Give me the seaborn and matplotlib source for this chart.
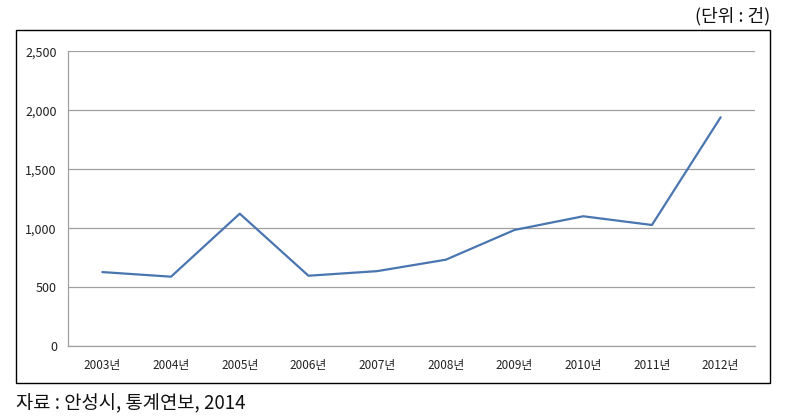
import matplotlib
matplotlib.use("Agg")
import matplotlib.pyplot as plt
import seaborn as sns
import pandas as pd
import numpy as np
from matplotlib.patches import Rectangle
from matplotlib.ticker import FuncFormatter

years = ["2003년", "2004년", "2005년", "2006년", "2007년", "2008년", "2009년", "2010년", "2011년", "2012년"]
counts = [629, 590, 1124, 598, 637, 734, 986, 1102, 1028, 1941]
yticks = [0, 500, 1000, 1500, 2000, 2500]

sns.set_style("white")
plt.rcParams['font.family'] = ['Noto Sans CJK KR', 'DejaVu Sans']

df = pd.DataFrame({"year": years, "count": counts})

fig = plt.figure(figsize=(7.97, 4.18), dpi=100)
ax = fig.add_axes([68/797, 1-346.3/418, (755-68)/797, (346.3-51.3)/418])

sns.lineplot(data=df, x="year", y="count", ax=ax, color="#4a76b0", linewidth=1.6, sort=False)

ax.set_xlim(-0.5, len(years)-0.5)
ax.set_ylim(0, 2500)
ax.set_yticks(yticks)
ax.yaxis.set_major_formatter(FuncFormatter(lambda v, p: f"{int(v):,}"))
ax.grid(axis="y", color="#a0a0a0", linewidth=0.9)
ax.set_axisbelow(True)
for s in ["top", "right"]:
    ax.spines[s].set_visible(False)
for s in ["left", "bottom"]:
    ax.spines[s].set_color("#a0a0a0")
    ax.spines[s].set_linewidth(0.9)
ax.set_xlabel("")
ax.set_ylabel("")
ax.set_xticks(range(len(years)))
ax.set_xticklabels(years)
ax.set_xticks(np.arange(-0.5, len(years), 1.0), minor=True)
ax.tick_params(axis="x", which="major", length=0, labelsize=8.5, pad=9, labelcolor="#222222")
ax.tick_params(axis="x", which="minor", length=4, direction="out", color="#a0a0a0", width=0.9)
ax.tick_params(axis="y", which="major", length=4, direction="out", color="#a0a0a0", width=0.9, labelsize=9, pad=4, labelcolor="#222222")

fig.patches.append(Rectangle((16/797, 1-383/418), (770-16)/797, (383-30)/418,
                             transform=fig.transFigure, fill=False, edgecolor="black", linewidth=1.0))

fig.text(770/797, 1-16/418, "(단위 : 건)", ha="right", va="center", fontsize=13, color="#111111")
fig.text(16/797, 1-404/418, "자료 : 안성시, 통계연보, 2014", ha="left", va="center", fontsize=13.5, color="#111111")

fig.savefig("out.png", dpi=100)
